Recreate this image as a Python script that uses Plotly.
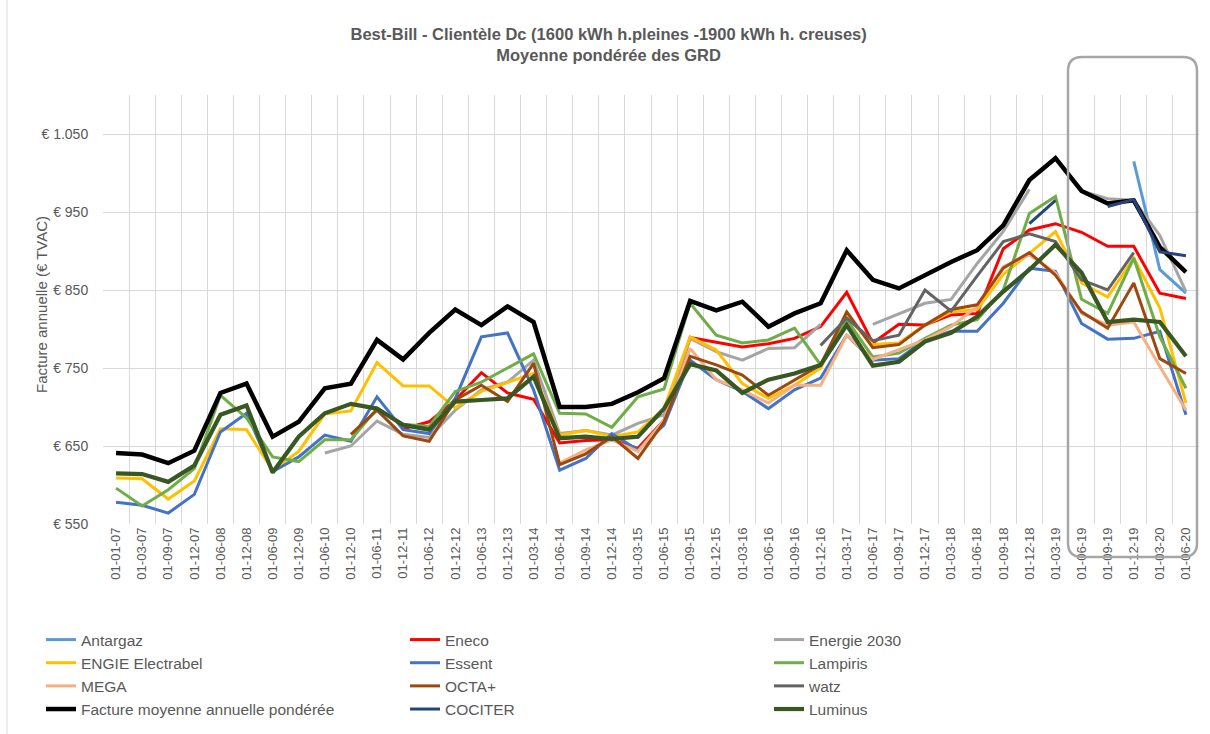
import plotly.graph_objects as go

dates = ["01-01-07", "01-03-07", "01-09-07", "01-12-07", "01-06-08", "01-12-08", "01-06-09", "01-12-09",
         "01-06-10", "01-12-10", "01-06-11", "01-12-11", "01-06-12", "01-12-12", "01-06-13", "01-12-13",
         "01-03-14", "01-06-14", "01-09-14", "01-12-14", "01-03-15", "01-06-15", "01-09-15", "01-12-15",
         "01-03-16", "01-06-16", "01-09-16", "01-12-16", "01-03-17", "01-06-17", "01-09-17", "01-12-17",
         "01-03-18", "01-06-18", "01-09-18", "01-12-18", "01-03-19", "01-06-19", "01-09-19", "01-12-19",
         "01-03-20", "01-06-20"]

y_ticks = [550, 650, 750, 850, 950, 1050]

N = None
antargaz = [N] * 39 + [1015, 876, 846]
eneco = [N] * 11 + [672, 681, 709, 744, 718, 710, 654, 657, 658, 647, 683, 789, 783, 777, 781, 788, 803, 847,
                    782, 806, 805, 818, 820, 903, 927, 935, 924, 906, 906, 846, 839]
energie2030 = [N] * 8 + [641, 650, 682, 665, 661, 696, 722, 732, 760, 666, 670, 664, 679, 690, 788, 771, 760,
                         775, 776, 806, N, 806, 820, 833, 838, 884, 925, 979, N, 977, 967, 965, 920, 848]
engie = [609, 608, 582, 605, 672, 671, 619, 643, 691, 695, 757, 727, 727, 699, 720, 732, 743, 664, 670, 662,
         668, 698, 790, 773, 730, 711, 728, 750, 816, 780, 782, 805, 822, 825, 870, 897, 925, 859, 841, 891,
         827, 705]
essent = [578, 574, 564, 588, 668, 692, 617, 636, 664, 656, 713, 671, 666, 711, 790, 795, 722, 619, 634, 666,
          645, 677, 760, 735, 720, 698, 722, 737, 792, 760, 762, 786, 797, 797, 833, 878, 874, 807, 787, 788,
          797, 690]
lampiris = [596, 573, 594, 621, 715, 686, 636, 630, 658, 658, 698, 678, 675, 720, 732, 750, 768, 692, 691, 674,
            713, 723, 833, 792, 782, 786, 801, 754, 812, 764, 769, 788, 805, 812, 850, 948, 970, 838, 820, 891,
            790, 724]
mega = [N] * 17 + [628, 645, 658, 643, 683, 775, 735, 722, 705, 728, 728, 792, 761, 773, 786, 803, 829, 880,
                   895, 872, 820, 805, 809, 752, 696]
octa = [N] * 9 + [665, 696, 663, 656, 709, 728, 707, 756, 626, 640, 662, 634, 681, 765, 754, 741, 715, 735, 754,
                  822, 776, 780, 805, 825, 831, 878, 898, 869, 822, 801, 859, 762, 743]
watz = [N] * 27 + [779, 814, 785, 792, 850, 823, 868, 912, 922, 912, 863, 850, 898, N, N]
facture = [641, 639, 628, 644, 718, 730, 662, 681, 724, 730, 786, 761, 795, 825, 805, 829, 809, 700, 700, 704,
           719, 737, 836, 824, 835, 803, 820, 833, 901, 863, 852, 869, 886, 901, 933, 991, 1019, 977, 961, 965,
           905, 873]
cociter = [N] * 35 + [935, 965, N, 957, 966, 899, 894]
luminus = [615, 614, 604, 625, 690, 702, 616, 662, 692, 704, 698, 677, 671, 707, 709, 711, 739, 660, 662, 659,
           662, 698, 755, 747, 718, 735, 743, 754, 805, 753, 758, 784, 795, 816, 848, 876, 908, 872, 809, 812,
           809, 765]

series = [
    ("Antargaz", antargaz, "#5B9BD5", 3),
    ("Eneco", eneco, "#FF0000", 3),
    ("Energie 2030", energie2030, "#A5A5A5", 3),
    ("ENGIE Electrabel", engie, "#FFC000", 3),
    ("Essent", essent, "#4472C4", 3),
    ("Lampiris", lampiris, "#70AD47", 3),
    ("MEGA", mega, "#F4B183", 3),
    ("OCTA+", octa, "#9E480E", 3),
    ("watz", watz, "#636363", 3),
    ("Facture moyenne annuelle pondérée", facture, "#000000", 4.5),
    ("COCITER", cociter, "#264478", 3),
    ("Luminus", luminus, "#385723", 4.2),
]

fig = go.Figure()
for name, vals, color, w in series:
    fig.add_trace(go.Scatter(x=dates, y=vals, name=name, mode="lines",
                             line=dict(color=color, width=w), connectgaps=False))

grey = "#595959"
W, H = 1210, 734
L, R, T, B = 103, 11, 95, 210
pw, ph = W - L - R, H - T - B

def px(x):
    return (x - L) / pw

def py(y):
    return (H - B - y) / ph

# rounded highlight box
x0, x1 = px(1068), px(1197)
y0, y1 = py(557), py(57)
rx, ry = 14 / pw, 14 / ph
path = (f"M{x0+rx},{y1} L{x1-rx},{y1} Q{x1},{y1} {x1},{y1-ry} L{x1},{y0+ry} Q{x1},{y0} {x1-rx},{y0} "
        f"L{x0+rx},{y0} Q{x0},{y0} {x0},{y0+ry} L{x0},{y1-ry} Q{x0},{y1} {x0+rx},{y1} Z")

tick_text = ["€ " + f"{v:,}".replace(",", ".") for v in y_ticks]

fig.update_layout(
    width=W, height=H,
    margin=dict(l=L, r=R, t=T, b=B, autoexpand=False),
    paper_bgcolor="white", plot_bgcolor="white",
    font=dict(family="Liberation Sans, Arial, sans-serif", color=grey),
    title=dict(text="<b>Best-Bill - Clientèle Dc (1600 kWh h.pleines -1900 kWh h. creuses)<br>Moyenne pondérée des GRD</b>",
               x=0.503, xanchor="center", xref="container", y=1 - 40 / H, yanchor="middle", yref="container",
               font=dict(size=16.5, color=grey)),
    xaxis=dict(type="category", tickson="boundaries", showgrid=True, gridcolor="#D9D9D9", gridwidth=1.3,
               tickangle=-90, tickfont=dict(size=13, color=grey), ticks="", showline=False,
               range=[-0.5, len(dates) - 0.5], zeroline=False),
    yaxis=dict(range=[550, 1100], tickvals=y_ticks, ticktext=tick_text,
               showgrid=True, gridcolor="#D9D9D9", gridwidth=1.3, tickfont=dict(size=14, color=grey),
               ticks="outside", ticklen=11, tickcolor="rgba(0,0,0,0)", zeroline=False, showline=False),
    showlegend=True,
    legend=dict(orientation="h", xref="paper", yref="paper", x=px(41), y=py(623),
                xanchor="left", yanchor="top", entrywidth=319, entrywidthmode="pixels",
                font=dict(size=15.5, color=grey), itemwidth=30, tracegroupgap=0, traceorder="normal",
                bgcolor="rgba(0,0,0,0)"),
    shapes=[
        dict(type="path", xref="paper", yref="paper", path=path, line=dict(color="#A6A6A6", width=2.5),
             layer="above"),
        dict(type="line", xref="paper", yref="paper", x0=px(7), x1=px(7), y0=py(H), y1=py(0),
             line=dict(color="#D9D9D9", width=1)),
    ],
    annotations=[
        dict(text="Facture annuelle (€ TVAC)", xref="paper", yref="paper", x=px(41), y=py(305),
             textangle=-90, showarrow=False, font=dict(size=15, color=grey), xanchor="center", yanchor="middle"),
    ],
)

fig.write_html("out.html", config={"displayModeBar": False},
               post_script="document.body.style.margin='0px';")
